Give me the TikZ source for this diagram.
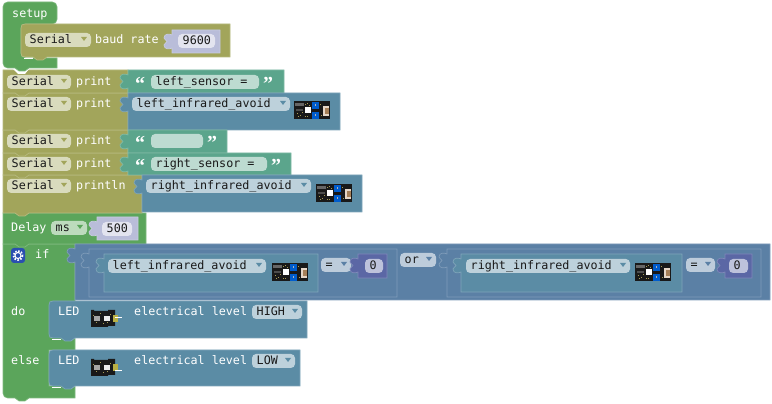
\documentclass[tikz,border=0pt]{standalone}
\usepackage{fontspec}
\usepackage{tikz}
\usetikzlibrary{positioning, calc}
\newfontfamily\blockfont{DejaVu Sans Mono}
\newfontfamily\quotefont{Liberation Serif}
\definecolor{olivecol}{HTML}{A2A55B}
\definecolor{greencol}{HTML}{5BA55B}
\definecolor{tealcol}{HTML}{5BA58C}
\definecolor{bluecol}{HTML}{5B8CA5}
\definecolor{logiccol}{HTML}{5B80A5}
\definecolor{mathcol}{HTML}{5B67A5}
\definecolor{shadowcol}{HTML}{B9BDD9}
\definecolor{iconcol}{HTML}{2A4FB0}
\definecolor{speckcol}{HTML}{A89C55}
\tikzset{
	block/.style={fill=#1, draw=#1!78!white, line width=0.6pt},
	fieldbox/.style={fill=white, fill opacity=0.6, rounded corners=3.5},
	blocktext/.style={font=\blockfont\fontsize{10}{12}\selectfont, text=white, inner sep=0, anchor=base west},
	fieldtext/.style={blocktext, text=black!90},
	quotemark/.style={font=\quotefont\bfseries\fontsize{17}{17}\selectfont, text=white, inner sep=0, anchor=base west},
}
% value block with its tab on the left: x0, y0, x1, y1, colour
\newcommand{\valueblock}[5]{
	\draw[block=#5] (#1,#2) -- (#3,#2) -- (#3,#4) -- (#1,#4) -- (#1,#2+18)
		.. controls (#1-2,#2+19) and (#1-8,#2+20) .. (#1-8,#2+15)
		.. controls (#1-8,#2+13) and (#1-5,#2+13) .. (#1-5,#2+11.5)
		.. controls (#1-5,#2+10) and (#1-8,#2+10) .. (#1-8,#2+8)
		.. controls (#1-8,#2+3) and (#1-2,#2+4) .. (#1,#2+5) -- cycle;
}
% statement block with the bump below: x0, y0, x1, y1, colour
\newcommand{\stmtblock}[5]{
	\draw[block=#5] (#1,#2) -- (#3,#2) -- (#3,#4) -- (#1+26,#4) -- (#1+22,#4+3) -- (#1+16,#4+3) -- (#1+12,#4) -- (#1,#4) -- cycle;
}
% the same, for a block held inside a green one: rounded on the left
\newcommand{\innerblock}[5]{
	\draw[block=#5] (#1+4,#2) -- (#3,#2) -- (#3,#4) -- (#1+26,#4) -- (#1+22,#4+3) -- (#1+16,#4+3) -- (#1+12,#4) -- (#1+4,#4)
		.. controls (#1+1,#4) and (#1,#4-1) .. (#1,#4-4) -- (#1,#2+4) .. controls (#1,#2+1) and (#1+1,#2) .. (#1+4,#2) -- cycle;
	\draw[white, line width=0.8pt] (#1+3,#4+1) -- (#1+12,#4+1);
}
% name, x0, x1, y middle, text
\newcommand{\textfield}[5]{
	\fill[fieldbox] (#2,#4-7) rectangle (#3,#4+7);
	\node[fieldtext] (#1) at (#2+4.5,#4+4) {#5};
}
% same, with the arrow of a dropdown in colour #6
\newcommand{\dropfield}[6]{
	\textfield{#1}{#2}{#3}{#4}{#5}
	\fill[#6] (#3-10,#4-3) -- (#3-4,#4-3) -- (#3-7,#4+1) -- cycle;
}
% string block content: name, x of field start, x of field end, y middle, text
\newcommand{\stringrow}[5]{
	\node[quotemark] (#1 open) at (#2-16,#4+9) {“};
	\textfield{#1}{#2}{#3}{#4}{#5}
	\node[quotemark] (#1 close) at (#3+4,#4+9) {”};
}
% sensor picture, upper left corner at x, y
\newcommand{\sensorpic}[3]{
	\begin{scope}[shift={(#1,#2)}]
		\fill[black!90] (0,0.5) rectangle (36,18);
		\fill[gray!80!black] (1,2) rectangle (10,5);
		\fill[gray!60!black] (2,8) rectangle (9,10);
		\foreach \dx/\dy in {3/12, 6/14, 8/11, 11/3, 13/2, 4/15, 13/15, 15/4, 26/3, 27/14, 11/15}
			\fill[speckcol] (\dx,\dy) rectangle +(1.3,1.3);
		\fill[white] (11,6.5) rectangle (17,12.5);
		\fill[blue!55!cyan!80!black] (18,1) rectangle (25,8);
		\fill[blue!55!cyan!80!black] (18,11) rectangle (25,18);
		\fill[white!70!black] (21,3.5) rectangle +(1.3,1.3);
		\fill[white!70!black] (21,13.5) rectangle +(1.3,1.3);
		\fill[orange!15!white!80!gray] (29,5) rectangle (35,15);
		\fill[orange!30!gray] (31,7) rectangle (35,13);
		\node[inner sep=0] (#3) at (18,9) {};
	\end{scope}
}
% LED picture, upper left corner at x, y; y of its white lead
\newcommand{\ledpic}[4]{
	\begin{scope}[shift={(#1,#2)}]
		\fill[black!90] (0,0) -- (3,0) -- (3,1) -- (17,1) -- (17,0) -- (24,0) -- (24,16) -- (17,16) -- (17,17) -- (0,17) -- cycle;
		\foreach \dx/\dy in {2/5, 5/12, 9/3, 12/13, 16/12, 19/4}
			\fill[speckcol] (\dx,\dy) rectangle +(1.2,1.2);
		\fill[gray!70!white] (3,6) rectangle (9,11);
		\fill[white!85!gray] (13,6) rectangle (19,11);
		\fill[speckcol!80!yellow] (22,5) rectangle (27,12);
		\fill[white] (24,#4) rectangle (31,#4+1);
		\node[inner sep=0] (#3) at (13,8) {};
	\end{scope}
}

\begin{document}
\begin{tikzpicture}[x=0.03cm, y=-0.03cm]
\useasboundingbox (0,0) rectangle (772,404);
% if else, under the delay block
\draw[block=greencol] (3,244) -- (75,244) -- (75,350) -- (49,350) -- (49,386) -- (75,386) -- (75,398) -- (29,398) -- (25,401) -- (19,401) -- (15,398)
	[rounded corners=4] -- (3,398) [sharp corners] -- cycle;
\fill[iconcol, rounded corners=2.5] (11,248) rectangle (25,263);
\draw[white, line width=1.5pt, dash pattern=on 1.3pt off 1.3pt] (18,255.5) circle (4.6);
\draw[white, line width=0.9pt] (18,255.5) circle (3);
\node[blocktext] (if word) at (35,259) {if};
\node[blocktext] (do word) at (11,316) {do};
\node[blocktext] (else word) at (11,365) {else};
% the serial rows, lowest first so that each bump lies over the next block
\stmtblock{3}{213}{146}{244}{greencol}
\stmtblock{3}{175}{142}{213}{olivecol}
\stmtblock{3}{153}{128}{175}{olivecol}
\stmtblock{3}{130}{128}{153}{olivecol}
\stmtblock{3}{93}{128}{130}{olivecol}
\stmtblock{3}{70}{128}{93}{olivecol}
\fill[white] (13,69) -- (29,69) -- (25,74) -- (18,74) -- cycle;
% setup hat
\draw[block=greencol, rounded corners=4] (3,2) -- (57,2) -- (57,24) -- (21,24) -- (21,58) [sharp corners] -- (57,58) -- (57,68) -- (29,68) -- (25,71) -- (19,71) -- (15,68) [rounded corners=4] -- (3,68) -- cycle;
\node[blocktext] (setup) at (12,18) {setup};
\innerblock{21}{24}{230}{57}{olivecol}
\dropfield{setup serial}{25}{91}{40}{Serial}{olivecol}
\node[blocktext] (baud) at (95,44) {baud rate};
\valueblock{172}{30}{220}{53}{shadowcol}
\textfield{baud value}{178}{215}{41}{9600}
\foreach \yy/\fname/\word in {82/ser1/print, 104/ser2/print, 141/ser3/print, 164/ser4/print, 186/ser5/println} {
	\dropfield{\fname}{7}{71}{\yy}{Serial}{olivecol}
	\node[blocktext] (\fname word) at (76,\yy+4) {\word};
}
\valueblock{128}{70}{284}{93}{tealcol}
\stringrow{left title}{151}{259}{82}{left\_sensor =}
\valueblock{128}{93}{340}{130}{bluecol}
\dropfield{left print}{132}{290}{104}{left\_infrared\_avoid}{bluecol}
\sensorpic{294}{101}{left print pic}
\valueblock{128}{130}{227}{153}{tealcol}
\stringrow{gap title}{151}{203}{141}{}
\valueblock{128}{153}{291}{175}{tealcol}
\stringrow{right title}{151}{267}{164}{right\_sensor =}
\valueblock{142}{175}{362}{212}{bluecol}
\dropfield{right print}{146}{311}{186}{right\_infrared\_avoid}{bluecol}
\sensorpic{316}{184}{right print pic}
% delay
\node[blocktext] (delay) at (11,232) {Delay};
\dropfield{delay unit}{51}{87}{228}{ms}{greencol}
\valueblock{97}{217}{138}{240}{shadowcol}
\textfield{delay value}{102}{132}{229}{500}
% condition
\valueblock{75}{244}{770}{300}{logiccol}
\valueblock{89}{249}{397}{297}{logiccol}
\valueblock{104}{254}{318}{292}{bluecol}
\dropfield{left cond}{108}{266}{266}{left\_infrared\_avoid}{bluecol}
\sensorpic{272}{263}{left cond pic}
\dropfield{left eq}{321}{351}{265}{=}{logiccol}
\valueblock{358}{254}{387}{278}{mathcol}
\textfield{left zero}{365}{383}{266}{0}
\dropfield{or op}{400}{436}{260}{or}{logiccol}
\valueblock{447}{249}{761}{297}{logiccol}
\valueblock{461}{254}{682}{292}{bluecol}
\dropfield{right cond}{466}{630}{266}{right\_infrared\_avoid}{bluecol}
\sensorpic{635}{263}{right cond pic}
\dropfield{right eq}{686}{715}{265}{=}{logiccol}
\valueblock{725}{254}{752}{278}{mathcol}
\textfield{right zero}{729}{748}{266}{0}
% led blocks
\innerblock{49}{350}{300}{386}{bluecol}
\innerblock{49}{301}{307}{338}{bluecol}
\foreach \yy/\fname/\level/\xend/\lead in {316/high/HIGH/302/7, 365/low/LOW/295/11} {
	\node[blocktext] (\fname led) at (58,\yy) {LED};
	\node[blocktext] (\fname text) at (134,\yy) {electrical level};
	\dropfield{\fname level}{252}{\xend}{\yy-4}{\level}{bluecol}
	\ledpic{91}{\yy-6}{\fname pic}{\lead}
}
\end{tikzpicture}
\end{document}
